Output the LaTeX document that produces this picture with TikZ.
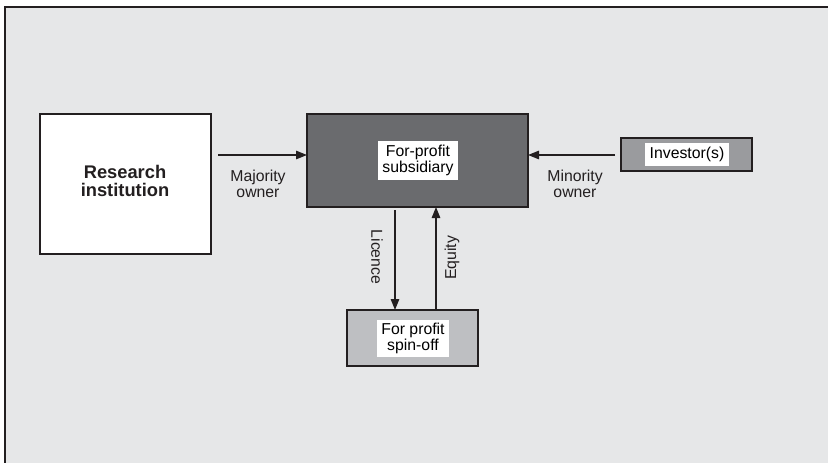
\documentclass[tikz,border=0pt]{standalone}
\usepackage{fontspec}
\setmainfont{Liberation Sans}
\usetikzlibrary{arrows.meta}
\definecolor{panel}{HTML}{E6E7E8}
\definecolor{edge}{HTML}{231F20}
\definecolor{darkfill}{HTML}{6A6B6E}
\definecolor{midfill}{HTML}{9A9B9E}
\definecolor{lightfill}{HTML}{BEBFC2}
\tikzset{
  box/.style={draw=edge, line width=1.3pt, inner sep=0pt, outer sep=0pt},
  tag/.style={fill=white, inner sep=0pt, outer sep=0pt, align=center,
    font=\fontsize{15.8}{16.5}\selectfont},
  lbl/.style={align=center, inner sep=0pt, text=edge,
    font=\fontsize{15.8}{16.5}\selectfont},
  link/.style={draw=edge, line width=1.2pt, -{Triangle[length=11pt,width=8.5pt]}},
}
\begin{document}
\begin{tikzpicture}[x=1pt, y=-1pt]
  \useasboundingbox (0,0) rectangle (828,463);
  % panel, open to the right and bottom
  \fill[white] (0,0) rectangle (828,463);
  \fill[panel] (5,7) rectangle (828,463);
  \draw[edge, line width=1.6pt] (5,463) -- (5,7) -- (828,7);

  % boxes
  \node[box, fill=white, minimum width=171pt, minimum height=140pt] (res) at (125.5,184) {};
  \node[font=\bfseries\fontsize{18.3}{18.5}\selectfont, align=center, text=edge] (restext) at (125,181) {Research\\institution};

  \node[box, fill=darkfill, minimum width=221pt, minimum height=93pt] (sub) at (417.5,160.5) {};
  \node[tag, minimum width=80pt, minimum height=39pt] (subtext) at (418,160.5) {For-profit\\subsidiary};

  \node[box, fill=midfill, minimum width=131pt, minimum height=33pt] (inv) at (686.5,154.5) {};
  \node[tag, minimum width=84pt, minimum height=23pt] (invtext) at (687,154.5) {Investor(s)};

  \node[box, fill=lightfill, minimum width=131pt, minimum height=56pt] (spin) at (412.5,338) {};
  \node[tag, minimum width=72pt, minimum height=37pt] (spintext) at (413,338.5) {For profit\\spin-off};

  % connectors
  \coordinate (majstart) at (218,155);
  \coordinate (minstart) at (615,155);
  \draw[link] (majstart) -- (sub.west |- majstart);
  \draw[link] (minstart) -- (sub.east |- minstart);
  \coordinate (licstart) at (395,210);
  \coordinate (eqstart) at (436,310);
  \draw[link] (licstart) -- (licstart |- spin.north);
  \draw[link] (eqstart) -- (eqstart |- sub.south);

  % connector labels
  \node[lbl] (majlbl) at (258,184) {Majority\\owner};
  \node[lbl] (minlbl) at (575,184) {Minority\\owner};
  \node[lbl, rotate=-90] (liclbl) at (377,257) {Licence};
  \node[lbl, rotate=90] (eqlbl) at (452,258) {Equity};
\end{tikzpicture}
\end{document}
